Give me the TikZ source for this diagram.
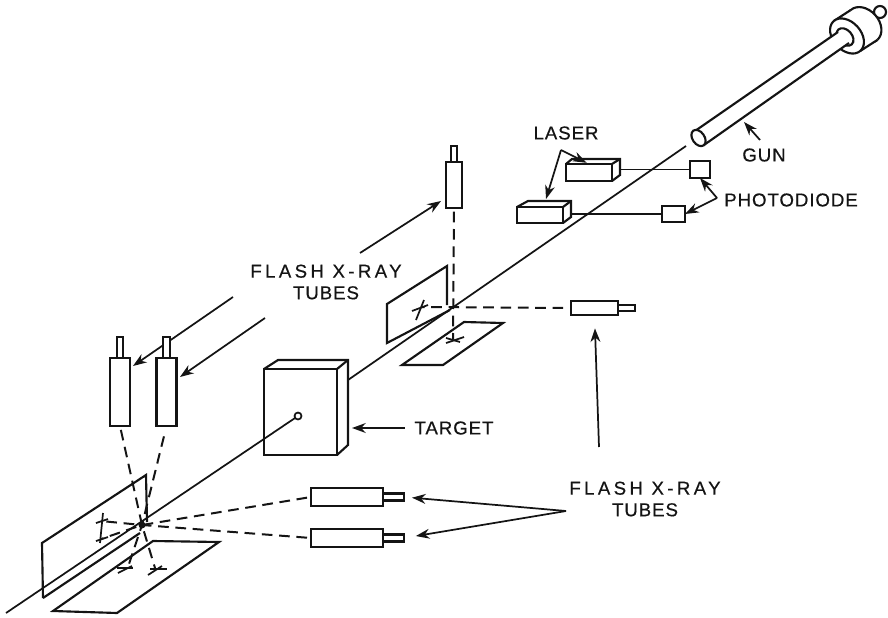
\documentclass[tikz,border=0pt]{standalone}
\usepackage{fontspec}
\setmainfont[LetterSpace=5,FakeBold=0.5]{Liberation Sans}
\newfontfamily\widefont[LetterSpace=18,FakeBold=0.5]{Liberation Sans}
\usetikzlibrary{positioning,arrows.meta,calc}
\definecolor{ink}{HTML}{141414}
\tikzset{
  blk/.style={draw=ink,fill=white,line width=1.6pt,inner sep=0pt,outer sep=0pt},
  plate/.style={draw=ink,line width=1.6pt,line join=miter},
  arr/.style={-{Stealth[length=3.6mm,width=2.6mm]},line width=1.3pt,draw=ink},
  wire/.style={line width=1.3pt,draw=ink},
  ray/.style={line width=1.5pt,draw=ink,dash pattern=on 8pt off 5pt},
  tick/.style={line width=1.3pt,draw=ink},
  lab/.style={font=\fontsize{14}{16.2}\selectfont,text=ink,align=center,inner sep=0pt},
}
\begin{document}
\begin{tikzpicture}[x=0.75pt,y=-0.75pt]
\useasboundingbox (0,0) rectangle (888,617);
\coordinate (hitL) at (142,525);
\coordinate (hitU) at (452,307);
% shot line
\coordinate (shotA) at (6,613);
\coordinate (shotB) at (298,416);
\coordinate (shotC) at (348,380);
\coordinate (shotD) at (686,146);
\draw[wire] (shotA) -- (shotB);
\draw[wire] (shotC) -- (shotD);
% labels and their leaders
\node[lab] (fxU) at (326,282) {{\widefont FLASH X-RAY}\\TUBES};
\node[lab] (fxL) at (645,499) {{\widefont FLASH X-RAY}\\TUBES};
\node[lab] (tgtLab) at (454,428) {TARGET};
\node[lab] (lasLab) at (566,133) {LASER};
\node[lab] (gunLab) at (764,155) {GUN};
\node[lab] (pdLab) at (791,200) {PHOTODIODE};
\coordinate (tailA) at (233,297);
\coordinate (tipA) at (133,366);
\coordinate (tailB) at (265,318);
\coordinate (tipB) at (180,377);
\coordinate (tailT) at (360,253);
\coordinate (tipT) at (441,201);
\draw[arr] (tailA) -- (tipA);
\draw[arr] (tailB) -- (tipB);
\draw[arr] (tailT) -- (tipT);
% left plates
\draw[plate] (43,598) -- (42,543) -- (146,475) -- (147,522);
\draw[plate] (43,598) -- (140,533);
\draw[plate] (153,541) -- (53,611) -- (117,613) -- (219,542) -- cycle;
% left tubes
\node[blk,minimum width=15pt,minimum height=51pt] (tubeA) at (120,392) {};
\node[blk,minimum width=5pt,minimum height=15.75pt,above=0pt of tubeA] (nozA) {};
\node[blk,minimum width=15pt,minimum height=51pt] (tubeB) at (166.5,392) {};
\node[blk,minimum width=5pt,minimum height=15.75pt,above=0pt of tubeB] (nozB) {};
\node[blk,minimum width=54pt,minimum height=13.5pt] (tubeC) at (347,497) {};
\node[blk,minimum width=15.75pt,minimum height=5.25pt,right=0pt of tubeC] (nozC) {};
\node[blk,minimum width=54pt,minimum height=13.5pt] (tubeD) at (347,538) {};
\node[blk,minimum width=15.75pt,minimum height=5.25pt,right=0pt of tubeD] (nozD) {};
\coordinate (crossA) at (155,568);
\coordinate (crossB) at (128,567);
\coordinate (crossC) at (101,539);
\coordinate (crossD) at (101,521);
\draw[ray,shorten <=3pt] (tubeA.south) -- (hitL) -- (crossA);
\draw[ray,shorten <=8pt] (tubeB.south) -- (hitL) -- (crossB);
\draw[ray,shorten <=3pt] (tubeC.west) -- (hitL) -- (crossC);
\draw[ray,shorten <=3pt] (tubeD.west) -- (hitL) -- (crossD);
\fill[ink] (hitL) circle (3.5);
\draw[tick] (103,513) -- (100,543);
\draw[tick] (96,523) -- (108,519);
\draw[tick] (96,541) -- (108,537);
\draw[tick] (118,573) -- (132,566);
\draw[tick] (117,568) -- (133,568);
\draw[tick] (148,575) -- (162,566);
\draw[tick] (150,569) -- (167,569);
\coordinate (fxApex) at (566,511);
\draw[arr,shorten >=6pt] (fxApex) -- (nozC.east);
\draw[arr,shorten >=9pt] (fxApex) -- (nozD.east);
% target
\node[blk,fill=none,minimum width=54.75pt,minimum height=64.5pt] (tgt) at (300.5,412) {};
\draw[plate] (tgt.north west) -- ++(14,-9) -- ($(tgt.north east)+(11,-9)$) -- ($(tgt.south east)+(11,-10)$) -- (tgt.south east);
\draw[plate] (tgt.north east) -- ++(11,-9);
\draw[wire,fill=white] (shotB) circle (3.5);
\coordinate (tgtTip) at (352,428);
\draw[arr,shorten <=7pt] (tgtLab.west) -- (tgtTip);
% upper plates
\draw[plate] (450,310) -- (387,343) -- (387,304) -- (447,266) -- (447,305);
\draw[plate] (464,322) -- (402,365) -- (443,365) -- (503,323) -- cycle;
\node[blk,minimum width=12pt,minimum height=34pt] (tubeT) at (454,185) {};
\node[blk,minimum width=4.5pt,minimum height=12pt,above=0pt of tubeT] (nozT) {};
\node[blk,minimum width=35pt,minimum height=10.5pt] (tubeR) at (594.5,308) {};
\node[blk,minimum width=12.75pt,minimum height=4.5pt,right=0pt of tubeR] (nozR) {};
\coordinate (crossT) at (453,339);
\coordinate (crossR) at (422,307);
\draw[ray,shorten <=3pt] (tubeT.south) -- (crossT);
\draw[ray,shorten <=6pt] (tubeR.west) -- (crossR);
\draw[tick] (412,311) -- (428,305);
\draw[tick] (424,300) -- (416,320);
\draw[tick] (446,343) -- (464,337);
\draw[tick] (446,338) -- (460,342);
\coordinate (tailR) at (599,447);
\draw[arr,shorten >=10pt] (tailR) -- (tubeR.south);
% lasers and photodiodes
\node[blk,minimum width=34.5pt,minimum height=12.75pt] (las1) at (589,172.5) {};
\draw[plate] (las1.north west) -- ++(6,-5) -- ($(las1.north east)+(8,-5)$) -- ($(las1.south east)+(8,-6)$) -- (las1.south east);
\draw[plate] (las1.north east) -- ++(8,-5);
\node[blk,minimum width=34.5pt,minimum height=12pt] (las2) at (540,215) {};
\draw[plate] (las2.north west) -- ++(11,-6) -- ($(las2.north east)+(8,-6)$) -- ($(las2.south east)+(8,-6)$) -- (las2.south east);
\draw[plate] (las2.north east) -- ++(8,-6);
\node[blk,minimum width=15pt,minimum height=12.75pt] (pd1) at (700,169.5) {};
\node[blk,minimum width=17.25pt,minimum height=12pt] (pd2) at (673.5,214) {};
\coordinate (las1R) at (620,169.5);
\coordinate (las2R) at (571,214);
\draw[wire] (las1R) -- (pd1.west);
\draw[wire] (las2R) -- (pd2.west);
\coordinate (lasApex) at (561,150);
\coordinate (tipL2) at (546,199);
\draw[arr,shorten >=2pt] (lasApex) -- (las1.north);
\draw[arr] (lasApex) -- (tipL2);
\coordinate (pdApex) at (717,198);
\draw[arr] (pdApex) -- (pd1.south);
\draw[arr] (pdApex) -- (pd2.east);
% gun
\draw[blk] (880,12) circle (6);
\draw[blk,rotate around={-48:(864,25)}] (864,25) ellipse [x radius=20,y radius=15];
\fill[white] (833.6,21.1) -- (850.6,10.1) -- (877.4,39.9) -- (860.4,50.9) -- cycle;
\draw[plate] (833.6,21.1) -- (850.6,10.1);
\draw[plate] (860.4,50.9) -- (877.4,39.9);
\draw[blk,rotate around={-48:(847,36)}] (847,36) ellipse [x radius=20,y radius=14];
\draw[blk,rotate around={-48:(845,37)}] (845,37) ellipse [x radius=10,y radius=7];
\coordinate (barA) at (695,131);
\coordinate (barB) at (704,145);
\fill[white] (barA) -- (838,32) -- (849,43) -- (barB) -- cycle;
\draw[plate] (barA) -- (838,32);
\draw[plate] (barB) -- (849,43);
\draw[blk,rotate around={-55:(698.5,138)}] (698.5,138) ellipse [x radius=9,y radius=6];
\coordinate (gunTail) at (760,140);
\coordinate (gunTip) at (744,122);
\draw[arr] (gunTail) -- (gunTip);
\end{tikzpicture}
\end{document}
